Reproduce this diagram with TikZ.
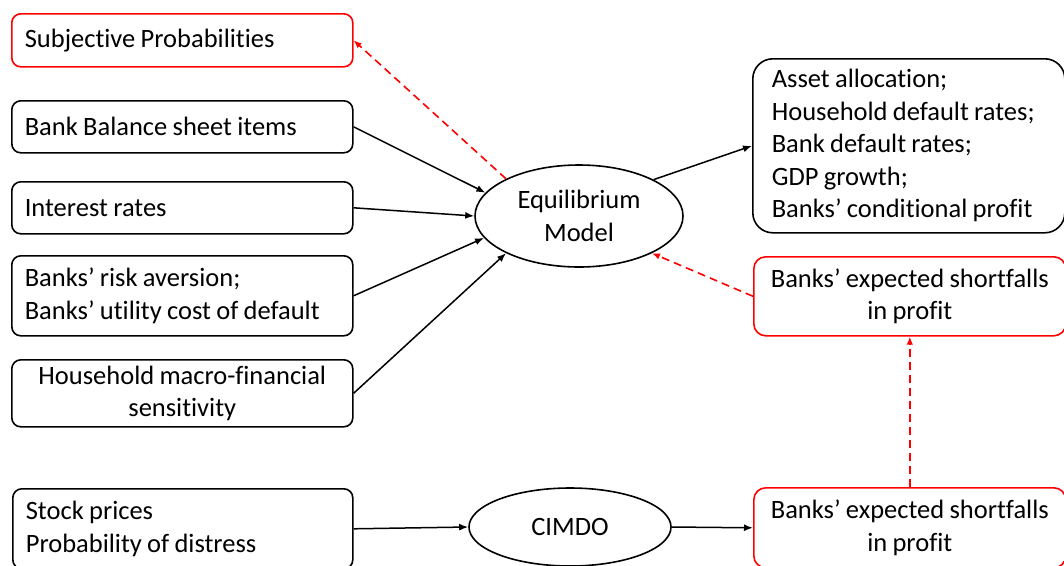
\documentclass[tikz,border=0pt]{standalone}
\usepackage{fontspec}
\setmainfont{Carlito}[Ligatures=NoCommon]
\usetikzlibrary{arrows.meta,shapes.geometric}

\begin{document}
\begin{tikzpicture}[x=1pt,y=-1pt,
  every node/.style={font=\fontsize{26.5}{32.5}\selectfont, inner sep=0pt,
    execute at begin node={\spaceskip=0.2em\xspaceskip=0.2em\relax}},
  box/.style={draw=black, line width=1.6pt, rounded corners=9pt,
    inner xsep=13pt, inner ysep=0pt, anchor=north west, align=left},
  redbox/.style={box, draw=red, rounded corners=12pt, align=center},
  oval/.style={draw=black, line width=1.6pt, ellipse, align=center},
  arr/.style={line width=1.5pt, -{Latex[length=9pt,width=7pt]}},
  redarr/.style={draw=red, line width=1.6pt, dash pattern=on 8pt off 5pt,
    -{Latex[length=8pt,width=6.5pt]}}]

\useasboundingbox (0,0) rectangle (1064,565);
\clip (0,0) rectangle (1064,565);

% inputs on the left
\node[box, draw=red, text width=315pt, minimum height=53pt] (subj) at (11,13)
  {Subjective Probabilities};
\node[box, text width=315pt, minimum height=52pt] (bbs) at (11,100)
  {Bank Balance sheet items};
\node[box, text width=315pt, minimum height=52pt] (ir) at (11,181)
  {Interest rates};
\node[box, text width=315pt, minimum height=80pt] (risk) at (11,255)
  {Banks’ risk aversion;\\Banks’ utility cost of default};
\node[box, text width=315pt, minimum height=67pt, align=center] (hh) at (11,359)
  {Household macro-financial\\sensitivity};
\node[box, text width=314pt, minimum height=80pt] (stock) at (12,488)
  {Stock prices\\Probability of distress};

% models
\node[oval, minimum width=208pt, minimum height=102pt] (eq) at (579,216)
  {Equilibrium\\Model};
\node[oval, minimum width=202pt, minimum height=78pt] (cimdo) at (570,527)
  {CIMDO};

% outputs on the right
\node[box, rounded corners=20pt, inner xsep=19pt, text width=274pt,
  minimum height=174pt] (out) at (752,58)
  {Asset allocation;\\Household default rates;\\Bank default rates;\\GDP growth;\\Banks’ conditional profit};
\node[redbox, text width=286pt, minimum height=79pt] (rb1) at (753,256)
  {Banks’ expected shortfalls\\in profit};
\node[redbox, text width=286pt, minimum height=80pt] (rb2) at (753,487)
  {Banks’ expected shortfalls\\in profit};

% connectors
\draw[arr] (bbs.east) -- (eq.166);
\draw[arr] (ir.east) -- (eq.180);
\draw[arr] (risk.east) -- (eq.193);
\draw[arr] (hh.east) -- (eq.207);
\draw[arr] (eq.26) -- (out.west);
\draw[arr] (stock.east) -- (cimdo.west);
\draw[arr] (cimdo.east) -- (rb2.west);

\draw[redarr] (eq.153) -- (subj.east);
\draw[redarr] (rb1.west) -- (eq.333);
\draw[redarr] (rb2.north) -- (rb1.south);
\end{tikzpicture}
\end{document}
